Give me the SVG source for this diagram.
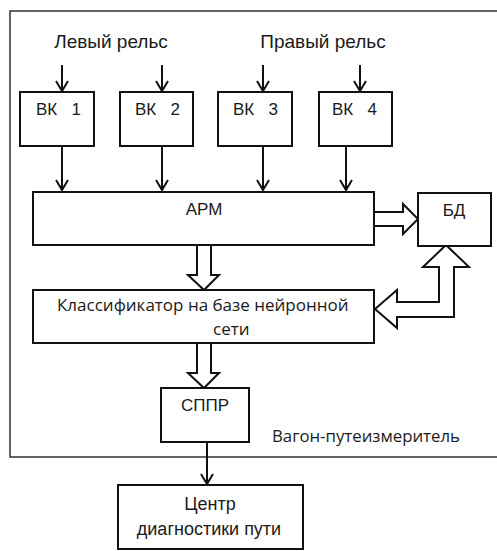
<svg xmlns="http://www.w3.org/2000/svg" width="497" height="551" viewBox="0 0 497 551">
<style>
.box{fill:#fff;stroke:#111;stroke-width:2}
.t{font-family:"Liberation Sans",Arial,sans-serif;font-size:17px;fill:#1a1a1a;text-anchor:middle}
.t2{font-family:"Open Sans","Liberation Sans",sans-serif;font-size:16.8px;fill:#1a1a1a}
.ln{stroke:#111;stroke-width:2;fill:none}
.hol{fill:#fff;stroke:#111;stroke-width:2;stroke-linejoin:miter}
</style>
<defs>
<marker id="ah" markerUnits="userSpaceOnUse" markerWidth="14" markerHeight="14" viewBox="0 0 14 14" refX="12" refY="7" orient="auto">
<path d="M2,1 L12,7 L2,13" fill="none" stroke="#111" stroke-width="2"/>
</marker>
</defs>
<rect width="497" height="551" fill="#fff"/>
<g id="frame">
<path d="M497,11 H10 V457 H497" fill="none" stroke="#333" stroke-width="1.5"/>
<text class="t2" x="272" y="442">Вагон-путеизмеритель</text>
</g>
<g id="labels">
<text class="t" x="111" y="48" style="font-size:19px">Левый рельс</text>
<text class="t" x="323" y="48" style="font-size:19px">Правый рельс</text>
</g>
<g id="connectors">
<line class="ln" x1="62" y1="65" x2="62" y2="91" marker-end="url(#ah)"/>
<line class="ln" x1="162" y1="65" x2="162" y2="91" marker-end="url(#ah)"/>
<line class="ln" x1="263" y1="65" x2="263" y2="91" marker-end="url(#ah)"/>
<line class="ln" x1="360" y1="65" x2="360" y2="91" marker-end="url(#ah)"/>
<line class="ln" x1="62" y1="146" x2="62" y2="190" marker-end="url(#ah)"/>
<line class="ln" x1="162" y1="146" x2="162" y2="190" marker-end="url(#ah)"/>
<line class="ln" x1="263" y1="146" x2="263" y2="190" marker-end="url(#ah)"/>
<line class="ln" x1="346" y1="146" x2="346" y2="190" marker-end="url(#ah)"/>
<line class="ln" x1="207" y1="442" x2="207" y2="484" marker-end="url(#ah)"/>
<path class="hol" d="M374,212 H403 V204 L418,219 L403,234 V226 H374"/>
<path class="hol" d="M197,245 V275 H188 L204,290 L219,275 H211 V245"/>
<path class="hol" d="M197,343 V373 H188 L204,388 L219,373 H211 V343"/>
<path class="hol" d="M375,309 L397,290 V302 H439 V267 H423 L446,245 L469,267 H454 V317 H397 V328 Z"/>
</g>
<g id="vk1"><rect class="box" x="20" y="92" width="74" height="54"/><text class="t" x="36" y="115" style="text-anchor:start" xml:space="preserve">ВК   1</text></g>
<g id="vk2"><rect class="box" x="120" y="92" width="73" height="54"/><text class="t" x="135" y="115" style="text-anchor:start" xml:space="preserve">ВК   2</text></g>
<g id="vk3"><rect class="box" x="218" y="92" width="74" height="54"/><text class="t" x="233" y="115" style="text-anchor:start" xml:space="preserve">ВК   3</text></g>
<g id="vk4"><rect class="box" x="319" y="92" width="73" height="54"/><text class="t" x="332" y="115" style="text-anchor:start" xml:space="preserve">ВК   4</text></g>
<g id="arm"><rect class="box" x="33" y="192" width="341" height="53"/><text class="t" x="204" y="215">АРМ</text></g>
<g id="bd"><rect class="box" x="418" y="193" width="73" height="53"/><text class="t" x="454" y="216">БД</text></g>
<g id="classifier"><rect class="box" x="33" y="290" width="341" height="53"/>
<text class="t2" x="57" y="311" style="font-size:17px">Классификатор на базе нейронной</text>
<text class="t2" x="213" y="335" style="font-size:17px">сети</text></g>
<g id="sppr"><rect class="box" x="161" y="388" width="88" height="54"/><text class="t" x="205" y="411">СППР</text></g>
<g id="center"><rect class="box" x="118" y="485" width="185" height="64"/>
<text class="t" x="210" y="510" style="font-size:18px">Центр</text>
<text class="t" x="209" y="535" style="font-size:18px">диагностики пути</text></g>
</svg>
